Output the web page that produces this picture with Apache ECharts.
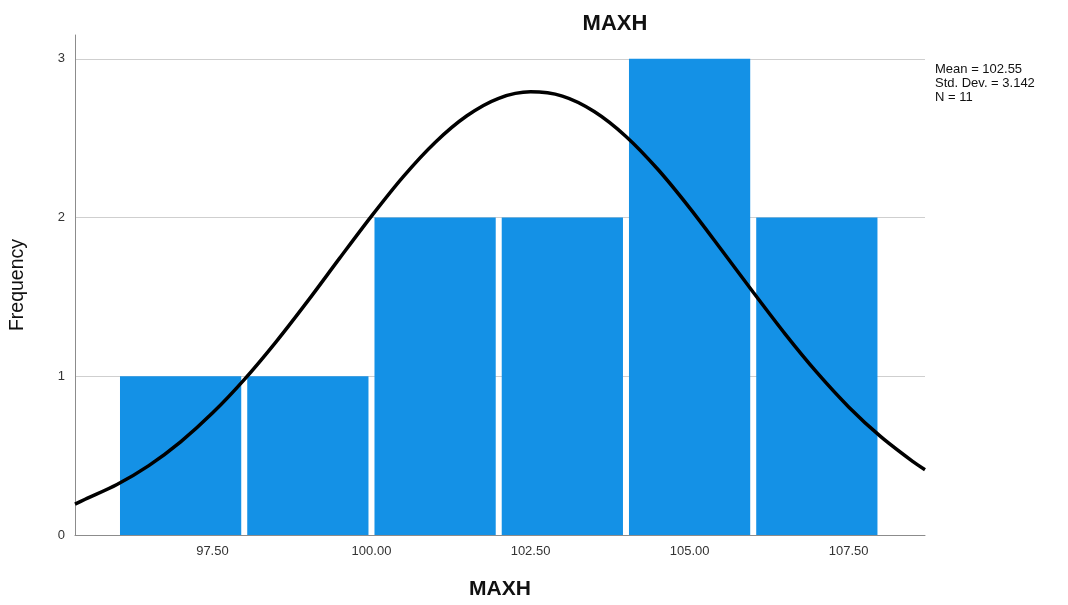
<!DOCTYPE html>
<html>
<head>
<meta charset="utf-8">
<script src="https://cdn.jsdelivr.net/npm/echarts@6/dist/echarts.min.js"></script>
<style>html,body{margin:0;padding:0;background:#fff}#c{width:1068px;height:605px}</style>
</head>
<body>
<div id="c"></div>
<script>
// Histogram bins (lower edge, upper edge) and frequencies
const binStarts = [96, 98, 100, 102, 104, 106];
const binEnds = [98, 100, 102, 104, 106, 108];
const frequencies = [1, 1, 2, 2, 3, 2];
// Normal curve
const curveX = [95.34, 95.5, 96, 96.5, 97, 97.5, 98, 98.5, 99, 99.5, 100, 100.5, 101, 101.5, 102, 102.5, 103, 103.5, 104, 104.5, 105, 105.5, 106, 106.5, 107, 107.5, 108, 108.5, 108.7];
const curveY = [0.195, 0.225, 0.318, 0.437, 0.587, 0.768, 0.979, 1.217, 1.475, 1.744, 2.009, 2.258, 2.473, 2.641, 2.751, 2.792, 2.765, 2.668, 2.511, 2.304, 2.061, 1.797, 1.529, 1.267, 1.024, 0.807, 0.621, 0.465, 0.411];
const xTickLabels = [97.5, 100, 102.5, 105, 107.5];
const statLines = ['Mean = 102.55', 'Std. Dev. = 3.142', 'N = 11'];

const chart = echarts.init(document.getElementById('c'), null, {renderer: 'canvas'});
const barData = binStarts.map((s, i) => [s, binEnds[i], frequencies[i]]);
const lineData = curveX.map((x, i) => [x, curveY[i]]);

chart.setOption({
  animation: false,
  backgroundColor: '#ffffff',
  title: {
    text: 'MAXH', left: 610, top: 8, textAlign: 'center',
    textStyle: {fontFamily: 'Liberation Sans, Arial', fontSize: 22, fontWeight: 'bold', color: '#111'}
  },
  grid: {left: 69, right: 143, top: 35, bottom: 65, containLabel: false},
  xAxis: {
    type: 'value', min: 95.34, max: 108.7,
    name: 'MAXH', nameLocation: 'middle', nameGap: 44,
    nameTextStyle: {fontFamily: 'Liberation Sans, Arial', fontSize: 21, fontWeight: 'bold', color: '#111'},
    axisLine: {show: true, lineStyle: {color: '#8c8c8c', width: 1}},
    axisTick: {show: false},
    splitLine: {show: false},
    axisLabel: {
      customValues: xTickLabels,
      formatter: v => Number(v).toFixed(2),
      fontFamily: 'Liberation Sans, Arial', fontSize: 13, color: '#333', margin: 10
    }
  },
  yAxis: {
    type: 'value', min: 0, max: 3.15, interval: 1,
    name: 'Frequency', nameLocation: 'middle', nameGap: 47, nameRotate: 90,
    nameTextStyle: {fontFamily: 'Liberation Sans, Arial', fontSize: 19.5, color: '#111'},
    axisLine: {show: true, lineStyle: {color: '#8c8c8c', width: 1}},
    axisTick: {show: false},
    axisLabel: {showMaxLabel: false, fontFamily: 'Liberation Sans, Arial', fontSize: 13, color: '#333', margin: 10, padding: [3, 0, 0, 0]},
    splitLine: {show: true, showMaxLine: false, lineStyle: {color: '#cfcfcf', width: 1}}
  },
  graphic: [{
    type: 'text', left: 935, top: 62,
    style: {text: statLines.join('\n'), font: '13px "Liberation Sans", Arial', fill: '#111', lineHeight: 14}
  }],
  series: [
    {
      type: 'custom',
      data: barData,
      encode: {x: [0, 1], y: 2},
      z: 2,
      renderItem: function (params, api) {
        const p0 = api.coord([api.value(0), 0]);
        const p1 = api.coord([api.value(1), api.value(2)]);
        return {
          type: 'rect',
          shape: {x: p0[0] + 3, y: p1[1], width: p1[0] - p0[0] - 6, height: p0[1] - p1[1]},
          style: {fill: '#1491e6'}
        };
      }
    },
    {
      type: 'line',
      data: lineData,
      smooth: 0.3,
      showSymbol: false,
      z: 5,
      lineStyle: {color: '#000', width: 3.5}
    }
  ]
});
</script>
</body>
</html>
